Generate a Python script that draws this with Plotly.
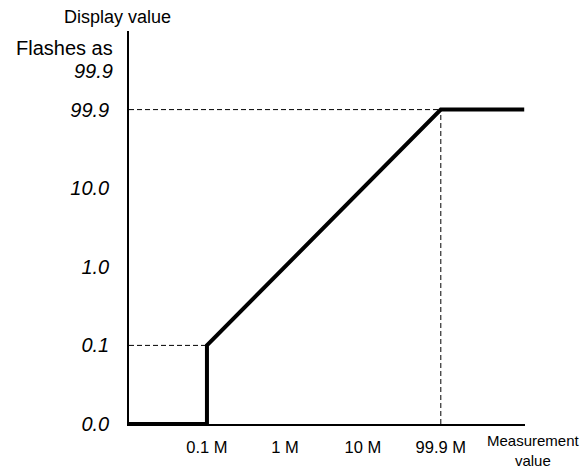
import plotly.graph_objects as go

# Display value levels (log-like index positions) and measurement ticks
y_tick_labels = ["0.0", "0.1", "1.0", "10.0", "99.9"]
y_tick_pos = [0, 1, 2, 3, 4]
x_tick_labels = ["0.1 M", "1 M", "10 M", "99.9 M"]
x_tick_pos = [1, 2, 3, 4]

# Response curve (index coordinates)
curve_x = [0, 1, 1, 4, 5.07]
curve_y = [0, 0, 1, 4, 4]

# Guide (dashed) lines
guide_h1_x = [0, 1]
guide_h1_y = [1, 1]
guide_h2_x = [0, 4]
guide_h2_y = [4, 4]
guide_v_x = [4, 4]
guide_v_y = [0, 4]

fig = go.Figure()
dash = dict(color="black", width=1, dash="5px,3px")
fig.add_trace(go.Scatter(x=guide_h1_x, y=guide_h1_y, mode="lines", line=dash, hoverinfo="skip"))
fig.add_trace(go.Scatter(x=guide_h2_x, y=guide_h2_y, mode="lines", line=dash, hoverinfo="skip"))
fig.add_trace(go.Scatter(x=guide_v_x, y=guide_v_y, mode="lines", line=dash, hoverinfo="skip"))
fig.add_trace(go.Scatter(x=curve_x, y=curve_y, mode="lines",
                         line=dict(color="black", width=4), hoverinfo="skip"))

seg_font = dict(family="Liberation Sans", size=20, color="black", style="italic")
narrow_font = dict(family="Liberation Sans Narrow, Arial Narrow, Arial", size=16.5, color="black")
label_font = dict(family="Liberation Sans Narrow, Arial Narrow, Arial", size=15, color="black")

fig.update_layout(
    width=580, height=460,
    margin=dict(l=121, r=63, t=23, b=40),
    paper_bgcolor="white", plot_bgcolor="white",
    showlegend=False,
    xaxis=dict(range=[0, 5.08], showgrid=False, zeroline=False, showline=True,
               linecolor="black", linewidth=1.5, tickvals=x_tick_pos, ticktext=x_tick_labels,
               ticks="", tickfont=narrow_font, ticklabelstandoff=7),
    yaxis=dict(range=[0, 5.0], showgrid=False, zeroline=False, showline=True,
               linecolor="black", linewidth=1.5, tickvals=y_tick_pos, ticktext=y_tick_labels,
               ticks="", tickfont=seg_font, ticklabelstandoff=14),
    annotations=[
        dict(text="Display value", xref="paper", yref="paper", x=-12/396, y=1,
             xanchor="center", yanchor="middle", yshift=14, showarrow=False,
             font=dict(family="Liberation Sans", size=18, color="black")),
        dict(text="Flashes as", xref="paper", yref="y", x=0, y=4.79, xshift=-14,
             xanchor="right", yanchor="middle", showarrow=False,
             font=dict(family="Liberation Sans", size=20, color="black")),
        dict(text="99.9", xref="paper", yref="y", x=0, y=4.49, xshift=-14,
             xanchor="right", yanchor="middle", showarrow=False, font=seg_font),
        dict(text="Measurement<br>value", xref="paper", yref="paper", x=1.021, y=0,
             xanchor="center", yanchor="top", yshift=-6, showarrow=False,
             font=label_font),
    ],
)

fig.write_html("out.html")
